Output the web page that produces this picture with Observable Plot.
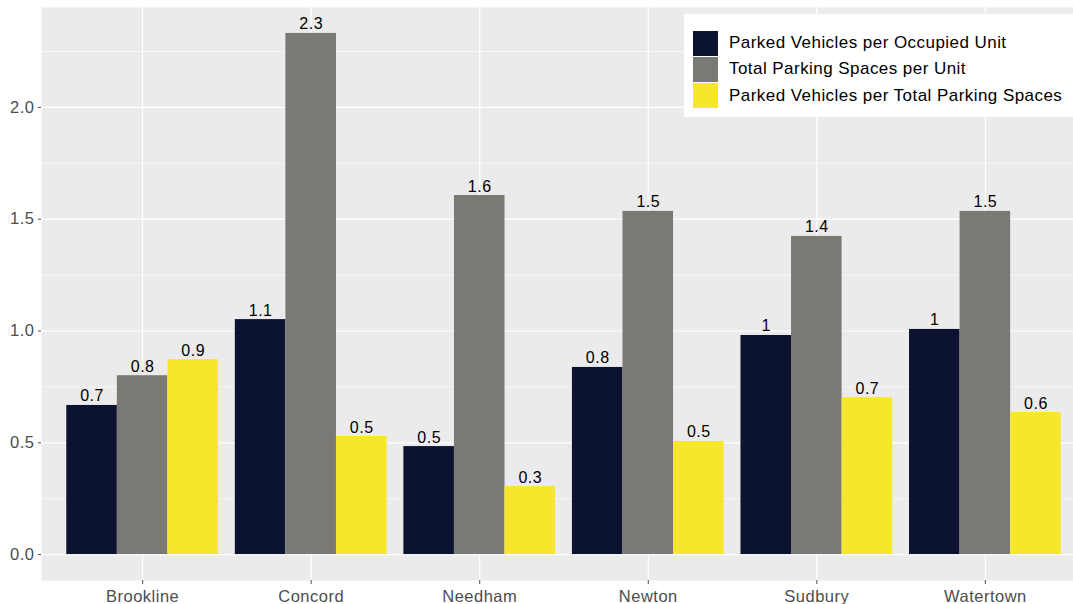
<!DOCTYPE html>
<html>
<head>
<meta charset="utf-8">
<script src="https://cdn.jsdelivr.net/npm/d3@7"></script>
<script src="https://cdn.jsdelivr.net/npm/@observablehq/plot@0.6"></script>
<style>
  html, body { margin: 0; padding: 0; background: #fff; overflow: hidden; }
  #wrap { position: relative; width: 1073px; height: 604px; overflow: hidden; font-family: "Liberation Sans", Arial, sans-serif; }
  #wrap svg text { letter-spacing: 0.5px; }
  #legend { position: absolute; left: 684px; top: 14px; width: 420px; height: 103px; background: #fff; box-sizing: border-box; padding-top: 16px; }
  .row { display: flex; align-items: center; height: 26.3px; }
  .key { width: 25px; height: 25px; margin-left: 9px; flex: none; }
  .lab { margin-left: 11px; font-size: 17px; letter-spacing: 0.45px; color: #000; white-space: nowrap; }
</style>
</head>
<body>
<div id="wrap"></div>
<script>
const cities = ["Brookline", "Concord", "Needham", "Newton", "Sudbury", "Watertown"];
const series = [
  "Parked Vehicles per Occupied Unit",
  "Total Parking Spaces per Unit",
  "Parked Vehicles per Total Parking Spaces"
];
const vehiclesPerUnit  = [0.667, 1.051, 0.483, 0.837, 0.980, 1.007];
const spacesPerUnit    = [0.800, 2.331, 1.606, 1.535, 1.423, 1.535];
const vehiclesPerSpace = [0.872, 0.528, 0.304, 0.506, 0.702, 0.635];
const yTicks = [0, 0.5, 1.0, 1.5, 2.0];
const yMinor = [0.25, 0.75, 1.25, 1.75, 2.25];

// dodge layout in data units, like ggplot's position_dodge(width = 0.9)
const dodgeWidth = 0.9;
const seriesValues = [vehiclesPerUnit, spacesPerUnit, vehiclesPerSpace];
const barW = dodgeWidth / series.length;
const rows = cities.flatMap((c, i) => series.map((s, j) => ({
  city: c, series: s, value: seriesValues[j][i],
  x1: i - dodgeWidth / 2 + j * barW,
  x2: i - dodgeWidth / 2 + (j + 1) * barW
})));
const cityIndex = cities.map((c, i) => i);
const palette = {domain: series, range: ["#0B1330", "#7A7974", "#F7E72C"]};

const chart = Plot.plot({
  width: 1073,
  height: 604,
  marginTop: 7,
  marginBottom: 24,
  marginLeft: 41,
  marginRight: -13,
  style: {fontFamily: "'Liberation Sans', Arial, sans-serif", background: "transparent", overflow: "hidden"},
  x: {type: "linear", domain: [-0.6, cities.length - 0.4], axis: null},
  y: {domain: [-0.116, 2.447], axis: null},
  color: palette,
  marks: [
    Plot.frame({fill: "#EBEBEB"}),
    Plot.ruleY(yMinor, {stroke: "#fff", strokeWidth: 0.6}),
    Plot.ruleY(yTicks, {stroke: "#fff", strokeWidth: 1.2}),
    Plot.ruleX(cityIndex, {stroke: "#fff", strokeWidth: 1.2}),
    Plot.rectY(rows, {x1: "x1", x2: "x2", y: "value", fill: "series"}),
    Plot.text(rows, {
      x: d => (d.x1 + d.x2) / 2, y: "value",
      text: d => String(Math.round(d.value * 10) / 10),
      lineAnchor: "bottom", dy: -4, fontSize: 16, fill: "#000"
    }),
    Plot.axisY({ticks: yTicks, tickFormat: d3.format(".1f"), tickSize: 3, tickPadding: 4, fontSize: 16.5, color: "#4D4D4D", label: null}),
    Plot.axisX({ticks: cityIndex, tickFormat: i => cities[i], tickSize: 4, tickPadding: 6, fontSize: 16.5, color: "#4D4D4D", label: null})
  ]
});

const wrap = document.getElementById("wrap");
wrap.appendChild(chart);

const legend = document.createElement("div");
legend.id = "legend";
series.forEach((s, j) => {
  const row = document.createElement("div");
  row.className = "row";
  const key = document.createElement("div");
  key.className = "key";
  key.style.background = palette.range[j];
  const lab = document.createElement("div");
  lab.className = "lab";
  lab.textContent = s;
  row.appendChild(key);
  row.appendChild(lab);
  legend.appendChild(row);
});
wrap.appendChild(legend);
</script>
</body>
</html>
